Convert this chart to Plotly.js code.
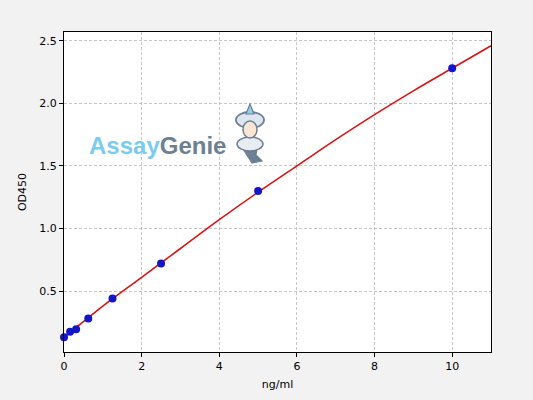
<!DOCTYPE html>
<html><head><meta charset="utf-8">
<script src="https://cdn.plot.ly/plotly-3.0.1.min.js"></script>
<style>body{margin:0;background:#f2f2f2}#c{width:533px;height:400px}</style>
</head><body><div id="c"></div>
<script>
const concX = [0, 0.15625, 0.3125, 0.625, 1.25, 2.5, 5, 10];
const odY = [0.13, 0.175, 0.195, 0.28, 0.44, 0.72, 1.30, 2.28];
const fitX = [0, 0.5, 1, 2, 3, 4, 5, 6, 7, 8, 9, 10, 11];
const fitY = [0.13, 0.255, 0.38, 0.61, 0.84, 1.07, 1.29, 1.50, 1.71, 1.91, 2.10, 2.28, 2.46];
const xTicks = [0, 2, 4, 6, 8, 10];
const yTicks = [0.5, 1.0, 1.5, 2.0, 2.5];

const data = [
  {x: fitX, y: fitY, mode: 'lines', line: {color: '#d81414', width: 1.6, shape: 'spline'}, hoverinfo: 'none'},
  {x: concX, y: odY, mode: 'markers', marker: {color: '#1414c8', size: 8}, cliponaxis: false}
];
const ax = {
  showline: true, linecolor: '#000', linewidth: 1, mirror: true,
  ticks: 'outside', ticklen: 4, tickcolor: '#000',
  showgrid: true, gridcolor: '#b8b8b8', griddash: '3px,2px', gridwidth: 0.8,
  zeroline: false, tickfont: {family: 'DejaVu Sans', size: 11, color: '#000'}
};
// logo helper: pixel -> paper
const PX = p => (p - 64) / 427, PY = p => (352 - p) / 320;
const ell = (x0, x1, y0, y1, fill, lw) => ({type: 'circle', xref: 'paper', yref: 'paper', x0: PX(x0), x1: PX(x1), y0: PY(y1), y1: PY(y0), line: {color: '#6d7f92', width: lw}, fillcolor: fill, layer: 'above'});
const poly = (pts, fill) => ({type: 'path', xref: 'paper', yref: 'paper', path: 'M' + pts.map(p => PX(p[0]).toFixed(4) + ',' + PY(p[1]).toFixed(4)).join(' L') + ' Z', line: {color: '#6d7f92', width: 1.2}, fillcolor: fill, layer: 'above'});
const layout = {
  width: 533, height: 400,
  paper_bgcolor: '#f2f2f2', plot_bgcolor: '#fff',
  margin: {l: 64, r: 42, t: 32, b: 48},
  showlegend: false,
  xaxis: Object.assign({}, ax, {range: [0, 11], tickvals: xTicks, ticktext: xTicks.map(String),
    title: {text: 'ng/ml', font: {family: 'DejaVu Sans', size: 11, color: '#000'}, standoff: 8}}),
  yaxis: Object.assign({}, ax, {range: [0.013, 2.57], tickvals: yTicks, ticktext: yTicks.map(v => v.toFixed(1)),
    title: {text: 'OD450', font: {family: 'DejaVu Sans', size: 11, color: '#000'}, standoff: 10}}),
  annotations: [
    {xref: 'paper', yref: 'paper', x: PX(87), y: PY(145), xanchor: 'left', yanchor: 'middle', showarrow: false,
     text: '<b><span style="color:#7ccbef">Assay</span><span style="color:#6d7f92">Genie</span></b>',
     font: {family: 'Liberation Sans', size: 24}}
  ],
  shapes: [
    poly([[243, 149], [252, 163], [262, 161], [256, 155], [257, 149]], '#6d7f92'),
    ell(237, 263, 137, 151, '#e8edf3', 1.5),
    ell(236, 264, 112, 128, '#dde5ee', 1.8),
    ell(243, 257, 121, 138, '#fbe6d4', 1.5),
    poly([[250, 104], [246, 114], [254, 114]], '#8fd0f0')
  ]
};
Plotly.newPlot('c', data, layout, {staticPlot: true});
</script></body></html>
